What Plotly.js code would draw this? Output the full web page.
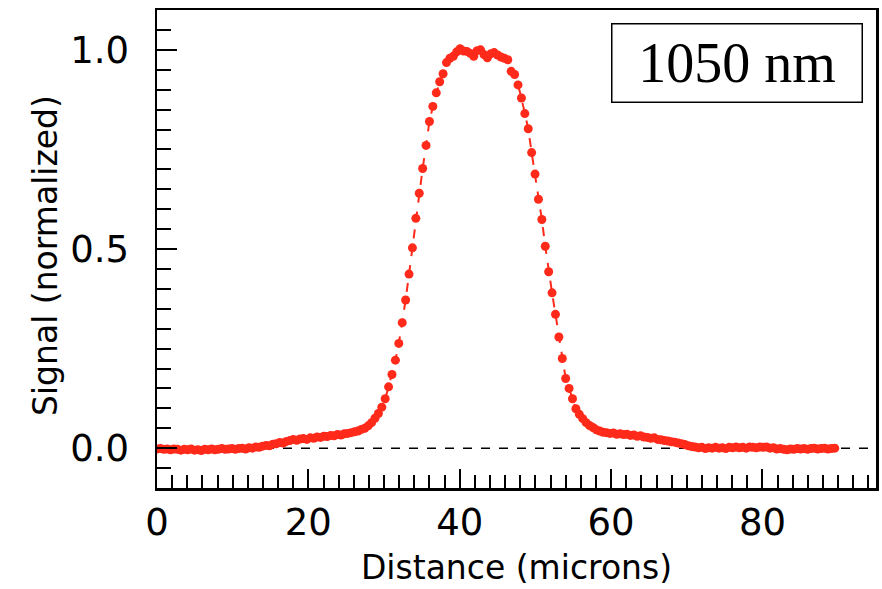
<!DOCTYPE html>
<html>
<head>
<meta charset="utf-8">
<script src="https://cdn.plot.ly/plotly-3.0.1.min.js"></script>
<style>html,body{margin:0;padding:0;background:#fff;}#chart{width:882px;height:589px;}</style>
</head>
<body>
<div id="chart"></div>
<script>
const distance = [
0.00,0.45,0.90,1.35,1.80,2.25,2.70,3.15,3.60,4.05,4.50,4.95,5.40,5.85,6.30,6.75,7.20,7.65,8.10,8.55,
9.00,9.45,9.90,10.35,10.80,11.25,11.70,12.15,12.60,13.05,13.50,13.95,14.40,14.85,15.30,15.75,16.20,16.65,17.10,17.55,
18.00,18.45,18.90,19.35,19.80,20.25,20.70,21.15,21.60,22.05,22.50,22.95,23.40,23.85,24.30,24.75,25.20,25.65,26.10,26.55,
27.00,27.45,27.90,28.35,28.80,29.25,29.70,30.15,30.60,31.05,31.50,31.95,32.40,32.85,33.30,33.75,34.20,34.65,35.10,35.55,
36.00,36.45,36.90,37.35,37.80,38.25,38.70,39.15,39.60,40.05,40.50,40.95,41.40,41.85,42.30,42.75,43.20,43.65,44.10,44.55,
45.00,45.45,45.90,46.35,46.80,47.25,47.70,48.15,48.60,49.05,49.50,49.95,50.40,50.85,51.30,51.75,52.20,52.65,53.10,53.55,
54.00,54.45,54.90,55.35,55.80,56.25,56.70,57.15,57.60,58.05,58.50,58.95,59.40,59.85,60.30,60.75,61.20,61.65,62.10,62.55,
63.00,63.45,63.90,64.35,64.80,65.25,65.70,66.15,66.60,67.05,67.50,67.95,68.40,68.85,69.30,69.75,70.20,70.65,71.10,71.55,
72.00,72.45,72.90,73.35,73.80,74.25,74.70,75.15,75.60,76.05,76.50,76.95,77.40,77.85,78.30,78.75,79.20,79.65,80.10,80.55,
81.00,81.45,81.90,82.35,82.80,83.25,83.70,84.15,84.60,85.05,85.50,85.95,86.40,86.85,87.30,87.75,88.20,88.65,89.10,89.55
];
const signal = [
-0.002,-0.001,-0.003,-0.002,-0.004,-0.002,-0.003,-0.005,-0.003,-0.004,-0.002,-0.005,-0.004,-0.006,-0.003,-0.004,-0.002,-0.004,-0.003,-0.001,
-0.003,-0.002,-0.001,-0.003,-0.001,0.000,-0.002,0.001,0.000,0.003,0.002,0.005,0.007,0.006,0.010,0.011,0.014,0.013,0.017,0.019,
0.022,0.020,0.023,0.024,0.022,0.026,0.025,0.028,0.027,0.030,0.029,0.032,0.031,0.034,0.033,0.036,0.037,0.039,0.041,0.043,
0.047,0.050,0.056,0.064,0.075,0.087,0.103,0.124,0.154,0.185,0.221,0.263,0.315,0.372,0.437,0.503,0.577,0.640,0.702,0.760,
0.820,0.858,0.892,0.920,0.940,0.968,0.979,0.984,0.995,1.003,0.997,0.996,0.991,0.984,0.998,1.000,0.988,0.980,0.990,0.993,
0.987,0.982,0.979,0.975,0.946,0.938,0.912,0.879,0.840,0.802,0.742,0.688,0.625,0.574,0.507,0.443,0.390,0.336,0.279,0.225,
0.175,0.150,0.124,0.099,0.085,0.074,0.064,0.057,0.052,0.046,0.043,0.040,0.039,0.037,0.038,0.035,0.036,0.034,0.035,0.032,
0.033,0.030,0.031,0.028,0.027,0.025,0.026,0.022,0.021,0.019,0.018,0.016,0.015,0.013,0.011,0.009,0.006,0.004,0.003,0.001,
0.002,-0.001,0.001,0.000,0.002,0.000,0.001,-0.001,0.002,0.001,0.003,0.001,0.002,0.000,0.003,0.002,0.001,0.003,0.002,0.003,
0.000,0.001,-0.002,-0.001,-0.003,-0.004,-0.002,-0.003,-0.001,-0.002,-0.001,-0.003,-0.001,0.000,-0.002,-0.001,0.000,-0.002,-0.001,0.000
];
const xTickVals = [0, 20, 40, 60, 80];
const yTickVals = [0.0, 0.5, 1.0];
const labelText = '1050 nm';
const xTitle = 'Distance (microns)';
const yTitle = 'Signal (normalized)';

const red = '#ff2a1a';
const sans = 'DejaVu Sans, sans-serif';

const trace = {
  x: distance, y: signal, type: 'scatter', mode: 'lines+markers',
  line: {color: red, width: 2, dash: 'dash'},
  marker: {color: red, size: 9, symbol: 'circle'},
  hoverinfo: 'skip', showlegend: false
};

const layout = {
  width: 882, height: 589,
  margin: {l: 157, r: 6, t: 10, b: 101, pad: 0},
  paper_bgcolor: '#fff', plot_bgcolor: '#fff',
  showlegend: false,
  xaxis: {
    range: [0, 95], showgrid: false, zeroline: false,
    showline: true, linecolor: '#000', linewidth: 2.5, mirror: true,
    ticks: 'inside', ticklen: 19, tickwidth: 2, tickcolor: '#000',
    tickmode: 'array', tickvals: xTickVals, ticktext: xTickVals.map(String),
    tickfont: {family: sans, size: 37, color: '#000'},
    minor: {dtick: 2, tick0: 0, ticks: 'inside', ticklen: 13, tickwidth: 2, tickcolor: '#000', showgrid: false},
    title: {text: xTitle, font: {family: sans, size: 33, color: '#000'}, standoff: 13}
  },
  yaxis: {
    range: [-0.1, 1.1], showgrid: false, zeroline: false,
    showline: true, linecolor: '#000', linewidth: 2.5, mirror: true,
    ticks: 'inside', ticklen: 20, tickwidth: 2, tickcolor: '#000',
    tickmode: 'array', tickvals: yTickVals, ticktext: yTickVals.map(v => v.toFixed(1)),
    tickfont: {family: sans, size: 37, color: '#000'},
    ticklabelstandoff: 18,
    minor: {dtick: 0.05, tick0: 0, ticks: 'inside', ticklen: 14, tickwidth: 2, tickcolor: '#000', showgrid: false}
  },
  shapes: [{
    type: 'line', xref: 'paper', yref: 'y', x0: 0, x1: 1, y0: 0, y1: 0,
    line: {color: '#000', width: 1.5, dash: 'dash'}, layer: 'below'
  }],
  annotations: [{
    xref: 'paper', yref: 'paper', x: 0.982, y: 0.973, xanchor: 'right', yanchor: 'top',
    text: labelText, showarrow: false,
    font: {family: 'Liberation Serif, Times New Roman, serif', size: 56, color: '#000'},
    bordercolor: '#000', borderwidth: 1.5, borderpad: 0, bgcolor: '#fff',
    width: 249, height: 77, align: 'center', valign: 'middle'
  }, {
    xref: 'paper', yref: 'paper', x: -0.156, y: 0.487, xanchor: 'center', yanchor: 'middle',
    text: yTitle, textangle: -90, showarrow: false,
    font: {family: sans, size: 33, color: '#000'}
  }]
};

Plotly.newPlot('chart', [trace], layout, {displayModeBar: false, staticPlot: true});
</script>
</body>
</html>
